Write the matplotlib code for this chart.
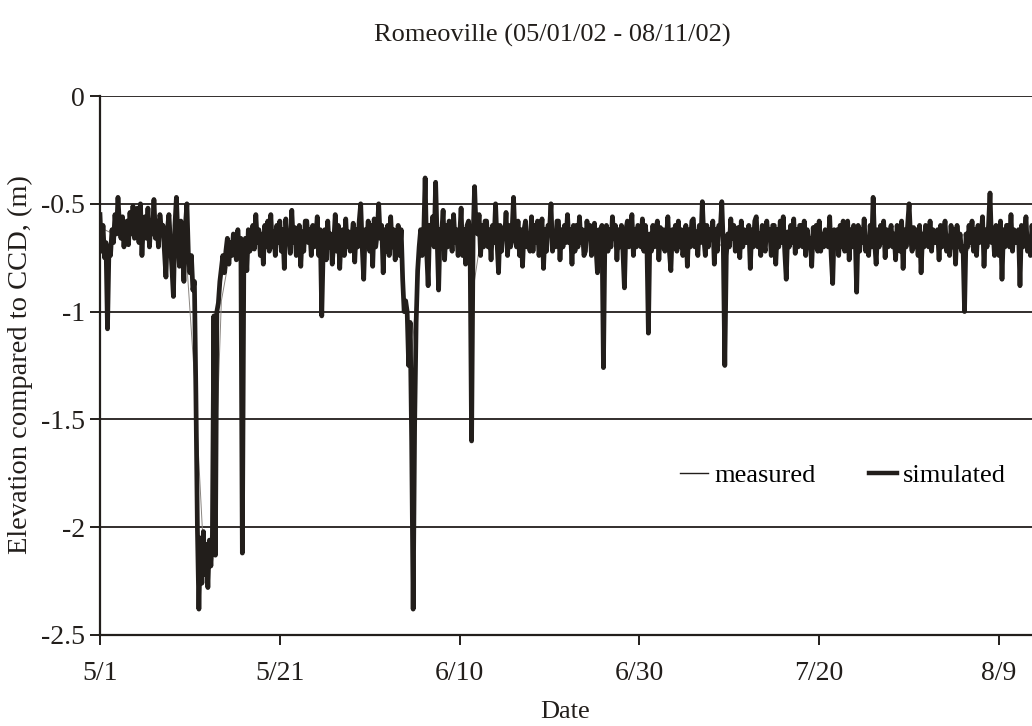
import numpy as np
import matplotlib
matplotlib.use('Agg')
import matplotlib.pyplot as plt

plt.rcParams['font.family'] = ['Liberation Serif', 'DejaVu Serif']

# simulated stage, 6 readings per day starting 5/1 (one row per day)
simulated = [
    -0.55, -0.72, -0.60, -0.75, -0.68, -1.08,
    -0.70, -0.74, -0.62, -0.68, -0.55, -0.64,
    -0.47, -0.60, -0.66, -0.56, -0.70, -0.60,
    -0.58, -0.69, -0.54, -0.64, -0.51, -0.66,
    -0.62, -0.52, -0.68, -0.50, -0.74, -0.58,
    -0.56, -0.66, -0.52, -0.70, -0.58, -0.64,
    -0.48, -0.66, -0.58, -0.70, -0.55, -0.62,
    -0.60, -0.72, -0.84, -0.62, -0.55, -0.68,
    -0.80, -0.93, -0.60, -0.47, -0.66, -0.79,
    -0.58, -0.70, -0.86, -0.60, -0.50, -0.74,
    -0.82, -0.74, -0.90, -0.86, -1.38, -2.00,
    -2.38, -2.05, -2.26, -2.02, -2.22, -2.08,
    -2.28, -2.06, -2.18, -2.04, -1.02, -2.13,
    -1.00, -0.96, -0.86, -0.80, -0.74, -0.82,
    -0.72, -0.66, -0.78, -0.68, -0.74, -0.64,
    -0.70, -0.76, -0.62, -0.72, -0.66, -2.12,
    -0.76, -0.66, -0.81, -0.62, -0.72, -0.68,
    -0.60, -0.71, -0.55, -0.68, -0.62, -0.74,
    -0.64, -0.78, -0.60, -0.70, -0.58, -0.72,
    -0.55, -0.70, -0.63, -0.74, -0.60, -0.68,
    -0.58, -0.72, -0.62, -0.80, -0.57, -0.68,
    -0.64, -0.73, -0.53, -0.68, -0.61, -0.74,
    -0.70, -0.60, -0.79, -0.63, -0.72, -0.58,
    -0.58, -0.68, -0.62, -0.74, -0.60, -0.70,
    -0.66, -0.56, -0.74, -0.62, -1.02, -0.70,
    -0.62, -0.76, -0.58, -0.70, -0.64, -0.78,
    -0.68, -0.55, -0.72, -0.60, -0.80, -0.64,
    -0.62, -0.74, -0.57, -0.70, -0.63, -0.72,
    -0.66, -0.59, -0.77, -0.62, -0.70, -0.58,
    -0.50, -0.70, -0.85, -0.62, -0.68, -0.58,
    -0.72, -0.60, -0.79, -0.57, -0.70, -0.64,
    -0.50, -0.66, -0.60, -0.82, -0.62, -0.72,
    -0.60, -0.74, -0.56, -0.70, -0.62, -0.76,
    -0.68, -0.60, -0.74, -0.62, -0.85, -1.00,
    -0.95, -1.00, -1.25, -1.05, -1.60, -2.38,
    -1.52, -1.05, -0.81, -0.70, -0.62, -0.74,
    -0.66, -0.38, -0.72, -0.88, -0.60, -0.68,
    -0.56, -0.70, -0.40, -0.66, -0.90, -0.62,
    -0.64, -0.53, -0.76, -0.60, -0.70, -0.58,
    -0.60, -0.72, -0.55, -0.68, -0.62, -0.74,
    -0.66, -0.52, -0.74, -0.62, -0.78, -0.60,
    -0.58, -0.70, -1.60, -0.66, -0.42, -0.62,
    -0.64, -0.55, -0.74, -0.60, -0.70, -0.58,
    -0.58, -0.70, -0.62, -0.76, -0.60, -0.68,
    -0.50, -0.68, -0.82, -0.60, -0.72, -0.62,
    -0.66, -0.54, -0.74, -0.60, -0.70, -0.63,
    -0.47, -0.66, -0.70, -0.58, -0.74, -0.62,
    -0.79, -0.62, -0.58, -0.70, -0.64, -0.72,
    -0.56, -0.72, -0.60, -0.68, -0.58, -0.74,
    -0.66, -0.57, -0.80, -0.62, -0.72, -0.60,
    -0.62, -0.50, -0.72, -0.64, -0.70, -0.58,
    -0.58, -0.76, -0.62, -0.70, -0.60, -0.68,
    -0.55, -0.68, -0.62, -0.78, -0.60, -0.72,
    -0.60, -0.70, -0.56, -0.68, -0.62, -0.74,
    -0.72, -0.58, -0.66, -0.60, -0.74, -0.62,
    -0.59, -0.70, -0.82, -0.62, -0.68, -0.60,
    -1.26, -0.64, -0.60, -0.72, -0.62, -0.70,
    -0.56, -0.66, -0.60, -0.76, -0.62, -0.70,
    -0.60, -0.72, -0.89, -0.62, -0.58, -0.70,
    -0.66, -0.55, -0.74, -0.62, -0.70, -0.60,
    -0.62, -0.70, -0.57, -0.72, -0.60, -0.68,
    -1.10, -0.64, -0.72, -0.60, -0.70, -0.62,
    -0.58, -0.76, -0.61, -0.70, -0.62, -0.72,
    -0.66, -0.56, -0.72, -0.81, -0.62, -0.68,
    -0.60, -0.72, -0.58, -0.70, -0.62, -0.74,
    -0.68, -0.60, -0.79, -0.62, -0.70, -0.58,
    -0.57, -0.70, -0.63, -0.74, -0.60, -0.68,
    -0.49, -0.66, -0.74, -0.60, -0.70, -0.62,
    -0.66, -0.58, -0.78, -0.62, -0.72, -0.60,
    -0.62, -0.49, -0.70, -1.25, -0.74, -0.64,
    -0.70, -0.57, -0.66, -0.60, -0.72, -0.62,
    -0.61, -0.75, -0.58, -0.70, -0.62, -0.68,
    -0.68, -0.60, -0.80, -0.62, -0.70, -0.58,
    -0.56, -0.70, -0.64, -0.74, -0.60, -0.68,
    -0.72, -0.58, -0.66, -0.62, -0.74, -0.60,
    -0.60, -0.78, -0.62, -0.70, -0.58, -0.68,
    -0.56, -0.72, -0.85, -0.63, -0.70, -0.60,
    -0.68, -0.57, -0.73, -0.62, -0.70, -0.60,
    -0.60, -0.70, -0.58, -0.74, -0.62, -0.68,
    -0.66, -0.79, -0.61, -0.70, -0.60, -0.72,
    -0.58, -0.72, -0.64, -0.70, -0.62, -0.68,
    -0.70, -0.56, -0.74, -0.87, -0.62, -0.68,
    -0.62, -0.74, -0.60, -0.70, -0.58, -0.72,
    -0.68, -0.58, -0.76, -0.62, -0.70, -0.60,
    -0.64, -0.91, -0.60, -0.72, -0.62, -0.68,
    -0.57, -0.72, -0.66, -0.74, -0.60, -0.70,
    -0.47, -0.68, -0.78, -0.62, -0.70, -0.60,
    -0.68, -0.58, -0.75, -0.62, -0.70, -0.64,
    -0.60, -0.70, -0.64, -0.76, -0.60, -0.68,
    -0.72, -0.58, -0.80, -0.62, -0.70, -0.60,
    -0.50, -0.66, -0.72, -0.61, -0.70, -0.62,
    -0.74, -0.60, -0.82, -0.64, -0.70, -0.60,
    -0.63, -0.70, -0.58, -0.72, -0.62, -0.68,
    -0.68, -0.62, -0.76, -0.60, -0.70, -0.64,
    -0.58, -0.72, -0.65, -0.74, -0.60, -0.70,
    -0.62, -0.78, -0.60, -0.70, -0.64, -0.72,
    -0.70, -1.00, -0.64, -0.70, -0.60, -0.68,
    -0.58, -0.72, -0.62, -0.74, -0.60, -0.68,
    -0.66, -0.56, -0.79, -0.62, -0.70, -0.60,
    -0.45, -0.68, -0.62, -0.74, -0.60, -0.70,
    -0.74, -0.58, -0.85, -0.62, -0.70, -0.60,
    -0.60, -0.70, -0.55, -0.72, -0.62, -0.68,
    -0.68, -0.62, -0.88, -0.60, -0.70, -0.64,
    -0.56, -0.72, -0.66, -0.74, -0.60, -0.68,
]

# measured stage, one reading per day starting 5/1
measured = [
    -0.62, -0.64, -0.60, -0.62, -0.60, -0.61, -0.60, -0.66, -0.70, -0.68,
    -1.30, -2.10, -2.15, -0.95, -0.72, -0.70, -0.72, -0.65, -0.68, -0.64,
    -0.66, -0.64, -0.67, -0.63, -0.66, -0.68, -0.66, -0.65, -0.67, -0.66,
    -0.65, -0.67, -0.64, -0.70, -1.30, -0.75, -0.62, -0.64, -0.63, -0.62,
    -0.64, -0.90, -0.62, -0.64, -0.65, -0.64, -0.63, -0.66, -0.64, -0.66,
    -0.64, -0.65, -0.66, -0.64, -0.65, -0.66, -0.70, -0.65, -0.67, -0.64,
    -0.63, -0.68, -0.66, -0.65, -0.64, -0.66, -0.65, -0.64, -0.66, -0.72,
    -0.64, -0.65, -0.67, -0.64, -0.66, -0.67, -0.68, -0.65, -0.64, -0.67,
    -0.65, -0.68, -0.66, -0.67, -0.69, -0.65, -0.64, -0.66, -0.65, -0.68,
    -0.63, -0.70, -0.64, -0.67, -0.65, -0.66, -0.72, -0.65, -0.66, -0.62,
    -0.70, -0.64, -0.70, -0.65,
]

tick_days = [0, 20, 40, 60, 80, 100]
tick_labels = ['5/1', '5/21', '6/10', '6/30', '7/20', '8/9']

t_sim = np.arange(len(simulated)) / 6.0
t_meas = np.arange(len(measured)) + 0.5

fig = plt.figure(figsize=(10.32, 7.26), dpi=100)
ax = fig.add_axes([100/1032, 1-635/726, 932/1032, 539/726])

ink = '#221e1b'
ax.plot(t_meas, measured, color='#8a8580', lw=0.7, label='measured', zorder=2)
ax.plot(t_sim, simulated, color=ink, lw=3.4, label='simulated', zorder=3)

ax.set_xlim(0, 932/8.99)
ax.set_ylim(-2.5, 0)
ax.set_yticks([0, -0.5, -1, -1.5, -2, -2.5])
ax.set_yticklabels(['0', '-0.5', '-1', '-1.5', '-2', '-2.5'])
ax.set_xticks(tick_days)
ax.set_xticklabels(tick_labels)
ax.yaxis.grid(True, color=ink, lw=1.3)
ax.set_axisbelow(True)
for s in ['top', 'right']:
    ax.spines[s].set_visible(False)
for s in ['left', 'bottom']:
    ax.spines[s].set_color(ink)
    ax.spines[s].set_linewidth(1.6)
ax.tick_params(colors=ink, labelsize=20, length=7, width=1.4, direction='out')
ax.tick_params(axis='x', pad=12)
ax.tick_params(axis='y', pad=4)

leg = ax.legend(loc='center left', bbox_to_anchor=((680-100)/932, (635-475)/539),
                ncol=2, frameon=False, fontsize=19, handlelength=1.06,
                handletextpad=0.25, columnspacing=2.0, borderpad=0, borderaxespad=0)
leg.get_lines()[0].set_color(ink)
leg.get_lines()[0].set_linewidth(1.0)
leg.get_lines()[1].set_linewidth(3.2)

fig.text(552/1032, 1-35/726, 'Romeoville (05/01/02 - 08/11/02)', ha='center', va='center',
         fontsize=19, color=ink)
fig.text(20/1032, 1-365/726, 'Elevation compared to CCD, (m)', rotation=90, ha='center',
         va='center', fontsize=20.5, color=ink)
fig.text(565/1032, 1-712/726, 'Date', ha='center', va='center', fontsize=19, color=ink)

plt.savefig('out.png', dpi=100)
